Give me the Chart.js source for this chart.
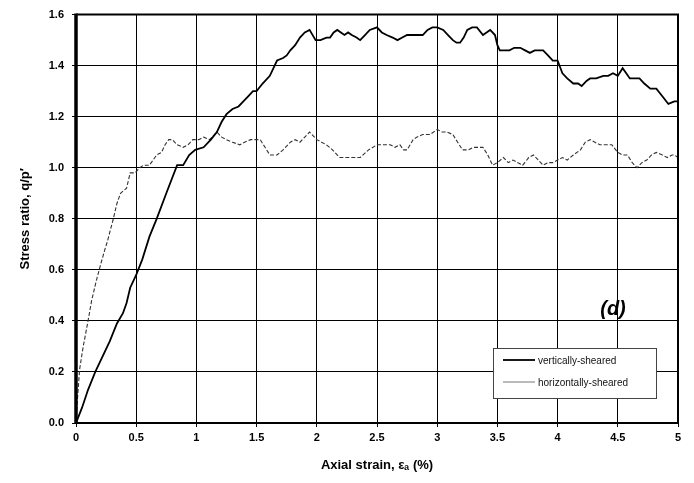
<!DOCTYPE html>
<html><head><meta charset="utf-8">
<script src="https://cdn.jsdelivr.net/npm/chart.js@4/dist/chart.umd.min.js"></script>
<style>html,body{margin:0;padding:0;background:#fff}#wrap{width:694px;height:483px}</style>
</head><body><div id="wrap"><canvas id="c" width="694" height="483"></canvas></div>
<script>
const seriesLabels = ["vertically-sheared", "horizontally-sheared"];
const xTitle = "Axial strain, \u03b5\u2090 (%)";
const yTitle = "Stress ratio, q/p\u2032";
const panelLabel = "(d)";

const vStrain = [0,0.05,0.1,0.16,0.22,0.28,0.34,0.39,0.42,0.45,0.5,0.55,0.61,0.67,0.75,0.84,0.89,0.94,0.99,1.06,1.12,1.17,1.21,1.25,1.30,1.35,1.39,1.43,1.47,1.50,1.55,1.61,1.64,1.67,1.72,1.75,1.78,1.82,1.86,1.90,1.94,1.99,2.03,2.08,2.11,2.14,2.17,2.20,2.23,2.26,2.29,2.33,2.36,2.40,2.44,2.50,2.54,2.58,2.63,2.67,2.71,2.75,2.80,2.85,2.88,2.92,2.96,3.0,3.05,3.09,3.13,3.16,3.19,3.22,3.25,3.29,3.33,3.38,3.41,3.44,3.48,3.50,3.52,3.56,3.60,3.64,3.69,3.73,3.77,3.81,3.84,3.88,3.92,3.96,4.0,4.04,4.08,4.13,4.17,4.2,4.24,4.27,4.32,4.38,4.42,4.46,4.5,4.54,4.57,4.6,4.64,4.68,4.72,4.77,4.82,4.87,4.92,4.97,5.0];
const vRatio = [0,0.06,0.13,0.2,0.26,0.32,0.39,0.43,0.47,0.53,0.58,0.64,0.73,0.80,0.90,1.01,1.01,1.05,1.07,1.08,1.11,1.14,1.18,1.21,1.23,1.24,1.26,1.28,1.30,1.30,1.33,1.36,1.39,1.42,1.43,1.44,1.46,1.48,1.51,1.53,1.54,1.50,1.50,1.51,1.51,1.53,1.54,1.53,1.52,1.53,1.52,1.51,1.50,1.52,1.54,1.55,1.53,1.52,1.51,1.50,1.51,1.52,1.52,1.52,1.52,1.54,1.55,1.55,1.54,1.52,1.50,1.49,1.49,1.51,1.54,1.55,1.55,1.52,1.53,1.54,1.52,1.48,1.46,1.46,1.46,1.47,1.47,1.46,1.45,1.46,1.46,1.46,1.44,1.42,1.42,1.37,1.35,1.33,1.33,1.32,1.34,1.35,1.35,1.36,1.36,1.37,1.36,1.39,1.37,1.35,1.35,1.35,1.33,1.31,1.31,1.28,1.25,1.26,1.26];

const hStrain = [0,0.01,0.03,0.06,0.1,0.13,0.17,0.21,0.24,0.26,0.31,0.34,0.37,0.42,0.45,0.49,0.53,0.56,0.61,0.64,0.67,0.71,0.74,0.77,0.80,0.84,0.89,0.93,0.97,1.02,1.06,1.11,1.17,1.21,1.25,1.30,1.36,1.40,1.45,1.49,1.53,1.57,1.61,1.67,1.72,1.78,1.82,1.86,1.90,1.94,2.0,2.04,2.08,2.13,2.19,2.24,2.28,2.32,2.36,2.43,2.5,2.55,2.61,2.65,2.69,2.72,2.75,2.80,2.83,2.88,2.94,3.0,3.04,3.08,3.13,3.17,3.21,3.26,3.3,3.34,3.38,3.42,3.46,3.50,3.55,3.59,3.63,3.67,3.71,3.76,3.8,3.84,3.88,3.92,3.96,4.0,4.04,4.08,4.13,4.19,4.23,4.27,4.31,4.35,4.40,4.45,4.5,4.54,4.58,4.62,4.66,4.70,4.74,4.78,4.82,4.87,4.91,4.95,4.97,5.0];
const hRatio = [0,0.08,0.21,0.30,0.40,0.48,0.56,0.63,0.68,0.71,0.80,0.86,0.90,0.92,0.98,0.98,1.00,1.01,1.01,1.03,1.05,1.06,1.09,1.11,1.11,1.09,1.08,1.09,1.11,1.11,1.12,1.11,1.14,1.12,1.11,1.10,1.09,1.10,1.11,1.11,1.11,1.08,1.05,1.05,1.07,1.10,1.11,1.10,1.12,1.14,1.11,1.10,1.09,1.07,1.04,1.04,1.04,1.04,1.04,1.07,1.09,1.09,1.09,1.08,1.09,1.07,1.07,1.11,1.12,1.13,1.13,1.15,1.14,1.14,1.13,1.10,1.07,1.07,1.08,1.08,1.08,1.05,1.01,1.02,1.04,1.02,1.03,1.02,1.01,1.04,1.05,1.03,1.01,1.02,1.02,1.03,1.04,1.03,1.05,1.07,1.10,1.11,1.10,1.09,1.09,1.09,1.06,1.05,1.05,1.02,1.00,1.02,1.03,1.05,1.06,1.05,1.04,1.05,1.05,1.04];

const toPts = (xs, ys) => xs.map((x, i) => ({x: x, y: ys[i]}));
const FONT = "Arial, 'Liberation Sans', 'DejaVu Sans', sans-serif";

const framePlugin = {
  id: 'frame',
  afterDatasetsDraw(chart) {
    const {ctx, chartArea: a} = chart;
    ctx.save();
    ctx.strokeStyle = '#000';
    ctx.lineWidth = 2;
    ctx.beginPath();
    ctx.moveTo(a.left, a.top); ctx.lineTo(a.right, a.top); ctx.lineTo(a.right, a.bottom); ctx.lineTo(a.left, a.bottom);
    ctx.stroke();
    ctx.lineWidth = 3.5;
    ctx.beginPath(); ctx.moveTo(a.left, a.top - 1); ctx.lineTo(a.left, a.bottom + 1); ctx.stroke();
    // panel label
    ctx.fillStyle = '#000';
    ctx.font = "italic bold 20px " + FONT;
    ctx.textAlign = 'center'; ctx.textBaseline = 'middle';
    ctx.fillText(panelLabel, 613, 309);
    // legend
    const bx = 493, by = 348, bw = 163, bh = 50;
    ctx.fillStyle = '#fff';
    ctx.fillRect(bx, by, bw, bh);
    ctx.strokeStyle = '#444'; ctx.lineWidth = 1;
    ctx.strokeRect(bx + 0.5, by + 0.5, bw, bh);
    const ds = chart.data.datasets;
    const rows = [360, 382];
    ctx.font = "10px " + FONT;
    ctx.textAlign = 'left';
    ds.forEach((d, i) => {
      ctx.strokeStyle = i === 0 ? '#000' : '#777';
      ctx.lineWidth = i === 0 ? 1.8 : 1;
      ctx.setLineDash([]);
      ctx.beginPath(); ctx.moveTo(503, rows[i]); ctx.lineTo(535, rows[i]); ctx.stroke();
      ctx.fillStyle = '#111';
      ctx.fillText(d.label, 538, rows[i] + 1);
    });
    ctx.restore();
  }
};

new Chart(document.getElementById('c'), {
  type: 'line',
  data: {
    datasets: [
      {label: seriesLabels[0], data: toPts(vStrain, vRatio), borderColor: '#000', borderWidth: 1.8, pointRadius: 0, tension: 0, fill: false},
      {label: seriesLabels[1], data: toPts(hStrain, hRatio), borderColor: '#333', borderWidth: 1.1, borderDash: [4, 2], pointRadius: 0, tension: 0, fill: false}
    ]
  },
  options: {
    responsive: false, animation: false,
    layout: {padding: {top: 13, right: 16, left: 0, bottom: 0}},
    plugins: {legend: {display: false}, tooltip: {enabled: false}},
    scales: {
      x: {
        type: 'linear', min: 0, max: 5,
        afterFit(s) { s.height = 60; },
        ticks: {stepSize: 0.5, color: '#000', font: {family: FONT, size: 11, weight: 'bold'}, padding: 4, maxRotation: 0,
          callback: v => String(v)},
        grid: {color: '#000', lineWidth: 1, tickLength: 4, drawTicks: true},
        border: {display: false},
        title: {display: true, text: xTitle, color: '#000', font: {family: FONT, size: 13, weight: 'bold'}, padding: {top: 0, bottom: 10}}
      },
      y: {
        min: 0, max: 1.6,
        afterFit(s) { s.width = 76; },
        ticks: {stepSize: 0.2, color: '#000', font: {family: FONT, size: 11, weight: 'bold'}, padding: 8,
          callback: v => v.toFixed(1)},
        grid: {color: '#000', lineWidth: 1, tickLength: 4},
        border: {display: false},
        title: {display: true, text: yTitle, color: '#000', font: {family: FONT, size: 13, weight: 'bold'}, padding: {top: 18, bottom: 0}}
      }
    }
  },
  plugins: [framePlugin]
});
</script></body></html>
